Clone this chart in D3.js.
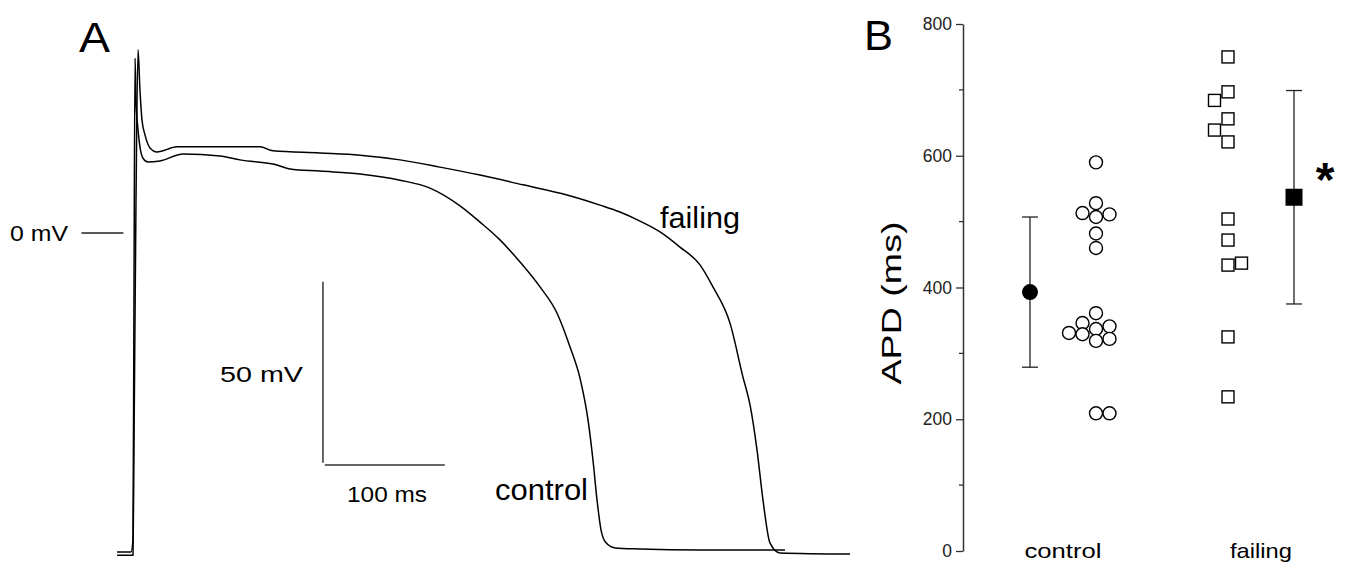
<!DOCTYPE html>
<html>
<head>
<meta charset="utf-8">
<script src="https://cdn.jsdelivr.net/npm/d3@7"></script>
<style>
  body { margin: 0; background: #fff; }
  svg { display: block; font-family: "Liberation Sans", Arial, sans-serif; }
</style>
</head>
<body>
<svg id="chart" width="1350" height="572"></svg>
<script>
// ---- panel A: action potential traces (t in ms, V in mV) ----
const controlT = [-13.3, -1.7, 0, 0.8, 1.7, 2.5, 4.2, 5.8, 8.3, 12.5, 22.5, 41.7, 72.5, 89.2, 120, 130.8, 155.8, 189.2, 222.5, 247.5, 272.5, 289.2, 305.8, 322.5, 339.2, 353.3, 364.2, 372.5, 379.2, 383.3, 386.7, 390, 394.2, 401.7, 422.5, 472.5, 543.3];
const controlV = [-88.1, -88.1, -84.8, -18.5, 48.3, 36.7, 28.5, 23.8, 20.7, 19.6, 19.9, 21.8, 21.3, 20.2, 18.8, 17.7, 17.1, 16.3, 14.6, 12.4, 7.5, 3.0, -1.9, -8.0, -14.9, -22.1, -31.5, -40.1, -51.7, -62.7, -73.8, -82.0, -85.6, -87.0, -87.3, -87.6, -87.6];

const failingT = [-13.3, 0, 0.8, 2.5, 4.2, 5.8, 7.5, 10, 14.2, 20, 36.7, 105.8, 116.7, 155.8, 189.2, 222.5, 255.8, 289.2, 325, 361.7, 389.2, 405.8, 422.5, 439.2, 455.8, 472.5, 483.3, 497.5, 508.3, 514.2, 520, 525, 530.8, 539.2, 597.5];
const failingV = [-89, -89, -60, 9.1, 50.6, 39.5, 31.2, 27.1, 23.5, 22.4, 23.8, 23.8, 22.7, 22.1, 21.5, 20.2, 18.2, 16.0, 13.3, 10.5, 7.7, 5.8, 3.3, 0.3, -3.9, -8.8, -14.9, -24.9, -39.8, -47.5, -59.9, -73.8, -85.6, -88.4, -88.7];

// ---- panel B: APD scatter ----
const groups = ["control", "failing"];
const controlAPD = [590, 528, 513, 507, 511, 482, 460, 361, 346, 331, 329, 337, 341, 319, 322, 209, 209];
const controlCol = [0, 0, -1, 0, 1, 0, 0, 0, -1, -2, -1, 0, 1, 0, 1, 0, 1];
const failingAPD = [750, 697, 684, 656, 639, 621, 504, 472, 434, 437, 325, 234];
const failingCol = [0, 0, -1, 0, -1, 0, 0, 0, 0, 1, 0, 0];
const groupMean = [393, 537];
const groupSD = [114, 162];
const apdTicks = [0, 200, 400, 600, 800];
const apdMinor = [100, 300, 500, 700];

const svg = d3.select("#chart");

// stretched text helper (the original lettering is wide)
function label(x, y, txt, size, len, anchor) {
  return svg.append("text").attr("x", x).attr("y", y)
    .attr("font-size", size).attr("text-anchor", anchor || "start")
    .attr("textLength", len).attr("lengthAdjust", "spacingAndGlyphs")
    .text(txt);
}

// scales for panel A
const xA = d3.scaleLinear().domain([0, 100]).range([133, 253]);
const yA = d3.scaleLinear().domain([0, 50]).range([233, 52]);

const line = d3.line().x(d => xA(d[0])).y(d => yA(d[1])).curve(d3.curveMonotoneX);

const gA = svg.append("g");
[[controlT, controlV], [failingT, failingV]].forEach(([T, V]) => {
  gA.append("path")
    .datum(T.map((t, i) => [t, V[i]]))
    .attr("d", line)
    .attr("fill", "none")
    .attr("stroke", "#000")
    .attr("stroke-width", 1.5)
    .attr("stroke-linejoin", "round");
});

// 0 mV marker
gA.append("line")
  .attr("x1", xA(-43)).attr("x2", xA(-8))
  .attr("y1", yA(0)).attr("y2", yA(0))
  .attr("stroke", "#222").attr("stroke-width", 1.3);
label(10, yA(0) + 8, "0 mV", 22, 58);

// scale bars
const barT = 158.3, barV = -63.5;
gA.append("line")
  .attr("x1", xA(barT)).attr("x2", xA(barT))
  .attr("y1", yA(barV)).attr("y2", yA(barV + 50))
  .attr("stroke", "#333").attr("stroke-width", 1.5);
gA.append("line")
  .attr("x1", xA(barT + 1.5)).attr("x2", xA(barT + 101.5))
  .attr("y1", yA(barV - 0.6)).attr("y2", yA(barV - 0.6))
  .attr("stroke", "#333").attr("stroke-width", 1.5);
label(220, 382, "50 mV", 22, 83);
label(347, 502, "100 ms", 22, 80);

label(660, 228, "failing", 30, 80);
label(495, 500, "control", 30, 93);

label(79, 52, "A", 43, 31);
label(864, 50, "B", 43, 29);

// ---- panel B ----
const yB = d3.scaleLinear().domain([0, 800]).range([551, 24]);
const xB = d3.scalePoint().domain(groups).range([1063, 1261]);
const off = 33, colStep = 13.5;

const axis = svg.append("g").attr("transform", "translate(963,0)")
  .call(d3.axisLeft(yB).tickValues(apdTicks).tickSize(7).tickSizeOuter(0).tickPadding(4));
axis.select(".domain").attr("stroke", "#333").attr("stroke-width", 1.5);
axis.selectAll(".tick line").attr("stroke", "#333").attr("stroke-width", 1.3);
axis.selectAll(".tick text").attr("font-size", 17.5).attr("fill", "#222")
  .attr("font-family", "Liberation Sans, Arial, sans-serif");
axis.selectAll(".minor").data(apdMinor).join("line")
  .attr("x1", -4).attr("x2", 0)
  .attr("y1", d => yB(d)).attr("y2", d => yB(d))
  .attr("stroke", "#333").attr("stroke-width", 1.3);

svg.append("text")
  .attr("transform", "translate(901,303) rotate(-90)")
  .attr("text-anchor", "middle").attr("font-size", 27)
  .attr("textLength", 163).attr("lengthAdjust", "spacingAndGlyphs")
  .text("APD (ms)");

label(1063, 558, "control", 21, 77, "middle");
label(1261, 558, "failing", 21, 62, "middle");

// mean +/- SD
const meanX = [xB("control") - off, xB("failing") + off];
groups.forEach((g, i) => {
  const mx = meanX[i];
  svg.append("line").attr("x1", mx).attr("x2", mx)
    .attr("y1", yB(groupMean[i] + groupSD[i])).attr("y2", yB(groupMean[i] - groupSD[i]))
    .attr("stroke", "#222").attr("stroke-width", 1.3);
  [groupMean[i] + groupSD[i], groupMean[i] - groupSD[i]].forEach(v => {
    svg.append("line").attr("x1", mx - 8).attr("x2", mx + 8)
      .attr("y1", yB(v)).attr("y2", yB(v))
      .attr("stroke", "#222").attr("stroke-width", 1.3);
  });
});
svg.append("circle").attr("cx", meanX[0]).attr("cy", yB(groupMean[0])).attr("r", 8).attr("fill", "#000");
svg.append("rect").attr("x", meanX[1] - 8.5).attr("y", yB(groupMean[1]) - 8.5)
  .attr("width", 17).attr("height", 17).attr("fill", "#000");
svg.append("text").attr("x", 1325).attr("y", 196).attr("text-anchor", "middle")
  .attr("font-size", 48).attr("font-weight", "bold").text("*");

// individual points
const ptX0 = [xB("control") + off, xB("failing") - off];
svg.selectAll(".cpt").data(controlAPD).join("circle")
  .attr("cx", (d, i) => ptX0[0] + controlCol[i] * colStep)
  .attr("cy", d => yB(d)).attr("r", 6.5)
  .attr("fill", "#fff").attr("stroke", "#000").attr("stroke-width", 1.4);
svg.selectAll(".fpt").data(failingAPD).join("rect")
  .attr("x", (d, i) => ptX0[1] + failingCol[i] * colStep - 6)
  .attr("y", d => yB(d) - 6).attr("width", 12).attr("height", 12)
  .attr("fill", "#fff").attr("stroke", "#000").attr("stroke-width", 1.4);
</script>
</body>
</html>
